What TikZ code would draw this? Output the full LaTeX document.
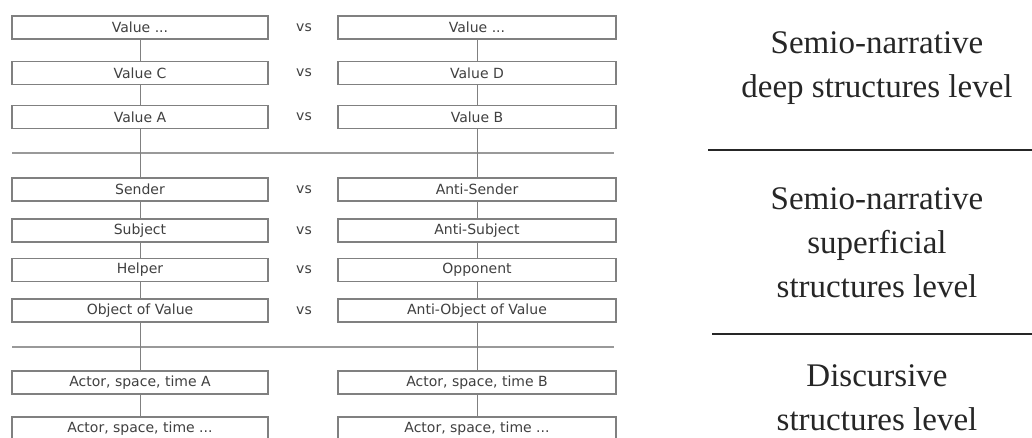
\documentclass[tikz,border=0pt]{standalone}
\usepackage{fontspec}
\setmainfont{Liberation Serif}
\newfontfamily\boxfont{DejaVu Sans}
\begin{document}
\begin{tikzpicture}[x=1pt,y=-1pt,
  vbox/.style={draw=black!50, line width=1.2pt, fill=white, rectangle, inner sep=0pt,
    minimum height=23pt, font=\boxfont\fontsize{14}{16}\selectfont, text=black!75},
  lbox/.style={vbox, minimum width=256pt},
  rbox/.style={vbox, minimum width=278pt},
  vslabel/.style={font=\boxfont\fontsize{14}{16}\selectfont, text=black!75, inner sep=0pt},
  link/.style={draw=black!50, line width=1pt},
  sepline/.style={draw=black!40, line width=1.5pt},
  levelline/.style={draw=black!85, line width=2.3pt},
  level/.style={font=\fontsize{33}{44}\selectfont, align=center, anchor=base, inner sep=0pt, text=black!85}]
\useasboundingbox (0,0) rectangle (1032,437);
\begin{scope}
\clip (0,0) rectangle (1032,437);
% separators
\draw[sepline] (12,153) -- (614,153);
\draw[sepline, line width=1.2pt] (12,347) -- (614,347);
% left column
\node[lbox] (l1) at (140,27.5) {Value ...};
\node[lbox] (l2) at (140,73) {Value C};
\node[lbox] (l3) at (140,117) {Value A};
\node[lbox] (l4) at (140,189.5) {Sender};
\node[lbox] (l5) at (140,230.5) {Subject};
\node[lbox] (l6) at (140,270) {Helper};
\node[lbox] (l7) at (140,310.5) {Object of Value};
\node[lbox] (l8) at (140,382.5) {Actor, space, time A};
\node[lbox, minimum height=24pt] (l9) at (140,429) {Actor, space, time ...};
% right column
\node[rbox] (r1) at (477,27.5) {Value ...};
\node[rbox] (r2) at (477,73) {Value D};
\node[rbox] (r3) at (477,117) {Value B};
\node[rbox] (r4) at (477,189.5) {Anti-Sender};
\node[rbox] (r5) at (477,230.5) {Anti-Subject};
\node[rbox] (r6) at (477,270) {Opponent};
\node[rbox] (r7) at (477,310.5) {Anti-Object of Value};
\node[rbox] (r8) at (477,382.5) {Actor, space, time B};
\node[rbox, minimum height=24pt] (r9) at (477,429) {Actor, space, time ...};
% vs labels
\node[vslabel] (v1) at (304,27.5) {vs};
\node[vslabel] (v2) at (304,73) {vs};
\node[vslabel] (v3) at (304,117) {vs};
\node[vslabel] (v4) at (304,189.5) {vs};
\node[vslabel] (v5) at (304,230.5) {vs};
\node[vslabel] (v6) at (304,270) {vs};
\node[vslabel] (v7) at (304,310.5) {vs};
% connectors
\foreach \a/\b in {1/2,2/3,3/4,4/5,5/6,6/7,7/8,8/9}{
  \draw[link] (l\a.south) -- (l\b.north);
  \draw[link] (r\a.south) -- (r\b.north);
}
\end{scope}
% level separators
\draw[levelline] (708,150) -- (1032,150);
\draw[levelline] (712,334) -- (1032,334);
% level labels (anchored at the baseline of their last line)
\node[level] (t1) at (877,97) {Semio-narrative\\deep structures level};
\node[level] (t2) at (877,297) {Semio-narrative\\superficial\\structures level};
\node[level] (t3) at (877,430) {Discursive\\structures level};
\end{tikzpicture}
\end{document}
